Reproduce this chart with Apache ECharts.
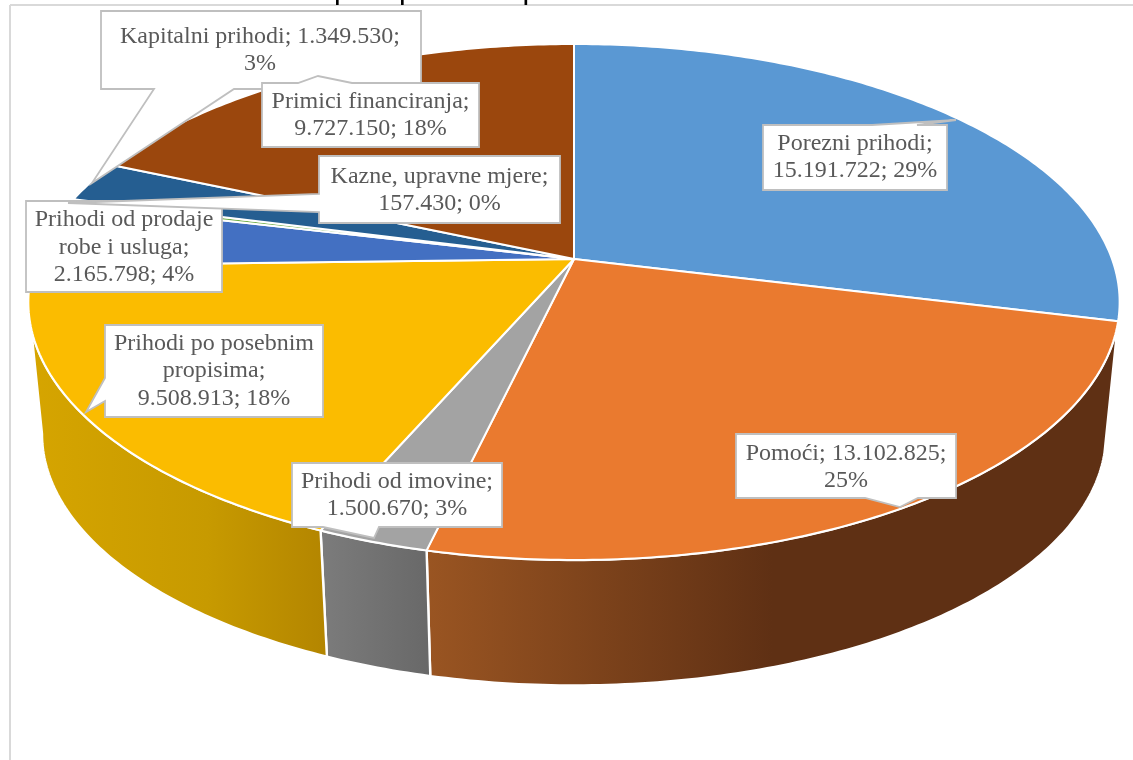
<!DOCTYPE html>
<html>
<head>
<meta charset="utf-8">
<style>html,body{margin:0;padding:0;background:#fff}#c{width:1133px;height:760px}</style>
<script src="https://cdn.jsdelivr.net/npm/echarts@6/dist/echarts.min.js"></script>
</head>
<body>
<div id="c"></div>
<script>
// ---------- data ----------
const categories = ['Porezni prihodi','Pomoći','Prihodi od imovine','Prihodi po posebnim propisima','Prihodi od prodaje robe i usluga','Kazne, upravne mjere','Kapitalni prihodi','Primici financiranja'];
const values = [15191722,13102825,1500670,9508913,2165798,157430,1349530,9727150];
const percentLabels = ['29%','25%','3%','18%','4%','0%','3%','18%'];
const valueLabels = ['15.191.722','13.102.825','1.500.670','9.508.913','2.165.798','157.430','1.349.530','9.727.150'];
const titleText = 'plan prihoda i primitaka';

// ---------- style ----------
const topColors = ['#5A98D3','#EA7A2F','#A3A3A3','#FBBC00','#4370C2','#70AD47','#255E91','#9B470D'];
const wallStops = {
  0: [[0,'#2f5778'],[1,'#2f5778']],
  1: [[0,'#9a5522'],[0.5,'#5f3014'],[1,'#5f3014']],
  2: [[0,'#7c7c7c'],[1,'#686868']],
  3: [[0,'#d6a500'],[0.6,'#c79a00'],[1,'#b38500']]
};
const GEO = {cx:574, cy:259, a:538, b:250.8, k:0.1667, drop:133, shrink:0.975};
const FRONT = [99.6, 260.4];   // angular range of the visible side wall

// callout layout: draw order matters (later over earlier)
const callouts = [
  {i:0, lines:['Porezni prihodi;','{v}; {p}'], tx:855, ty:157.5,
   pts:[[763,125],[872,125],[956,120],[917,125],[947,125],[947,190],[763,190]]},
  {i:1, lines:['Pomoći; {v};','{p}'], tx:846, ty:467,
   pts:[[736,434],[956,434],[956,498],[918,498],[900,507],[865,498],[736,498]]},
  {i:2, lines:['Prihodi od imovine;','{v}; {p}'], tx:397, ty:495,
   pts:[[292,463],[502,463],[502,527],[379,527],[374,538],[323,527],[292,527]]},
  {i:3, lines:['Prihodi po posebnim','propisima;','{v}; {p}'], tx:214, ty:371,
   pts:[[105,325],[323,325],[323,417],[105,417],[105,401],[86,412],[105,378]]},
  {i:6, lines:['Kapitalni prihodi; {v};','{p}'], tx:260, ty:50,
   pts:[[101,11],[421,11],[421,89],[234,89],[92,183],[154,89],[101,89]]},
  {i:7, lines:['Primici financiranja;','{v}; {p}'], tx:370.5, ty:115.5,
   pts:[[262,83],[298,83],[318,76],[352,83],[479,83],[479,147],[262,147]]},
  {i:4, lines:['Prihodi od prodaje','robe i usluga;','{v}; {p}'], tx:124, ty:247.5,
   pts:[[26,201],[222,201],[222,292],[26,292]]},
  {i:5, lines:['Kazne, upravne mjere;','{v}; {p}'], tx:439.5, ty:190,
   pts:[[319,156],[560,156],[560,223],[319,223],[319,212],[68,203],[319,194]]}
];

// ---------- geometry helpers ----------
const total = values.reduce((s,v)=>s+v,0);
const cum = [];
values.reduce((s,v,i)=>{cum[i]=[s/total*360,(s+v)/total*360];return s+v;},0);
function topPt(deg){
  const t=deg*Math.PI/180, u=Math.sin(t), v=-Math.cos(t), d=1-GEO.k*v;
  return [GEO.cx+GEO.a*u/d, GEO.cy+GEO.b*v/d];
}
function botPt(deg){
  const p=topPt(deg);
  return [GEO.cx+GEO.shrink*(p[0]-GEO.cx), GEO.cy+GEO.drop+GEO.shrink*(p[1]-GEO.cy)];
}
function arc(fn,a0,a1){
  const n=Math.max(2,Math.ceil(Math.abs(a1-a0)/0.75)), out=[];
  for(let j=0;j<=n;j++) out.push(fn(a0+(a1-a0)*j/n));
  return out;
}

const chart = echarts.init(document.getElementById('c'), null, {renderer:'canvas'});

function wallItem(params, api){
  const i=params.dataIndex;
  const a0=Math.max(cum[i][0],FRONT[0]), a1=Math.min(cum[i][1],FRONT[1]);
  if(a1<=a0 || !wallStops[i]) return {type:'group',children:[]};
  const pts=arc(topPt,a0,a1).concat(arc(botPt,a1,a0));
  return {type:'polygon', shape:{points:pts}, style:{
    fill:new echarts.graphic.LinearGradient(0,0,1,0,wallStops[i].map(s=>({offset:s[0],color:s[1]}))),
    stroke:'#fff', lineWidth:2.4, lineJoin:'round'}};
}
function topItem(params, api){
  const i=params.dataIndex;
  const pts=[[GEO.cx,GEO.cy]].concat(arc(topPt,cum[i][0],cum[i][1]));
  return {type:'polygon', shape:{points:pts}, style:{fill:topColors[i], stroke:'#fff', lineWidth:2, lineJoin:'round'}};
}
function calloutItem(params, api){
  const c=callouts[params.dataIndex];
  const txt=c.lines.join('\n').replace('{v}',valueLabels[c.i]).replace('{p}',percentLabels[c.i]);
  return {type:'group',children:[
    {type:'polygon',shape:{points:c.pts},style:{fill:'#fff',stroke:'#BFBFBF',lineWidth:1.8,lineJoin:'miter'}},
    {type:'text',style:{text:txt,x:c.tx,y:c.ty,align:'center',verticalAlign:'middle',
      fill:'#595959',fontFamily:'"Liberation Serif"',fontSize:24,lineHeight:27.3}}
  ]};
}

chart.setOption({
  animation:false,
  backgroundColor:'#fff',
  tooltip:{show:false},
  graphic:[
    {type:'line',shape:{x1:10,y1:5,x2:1133,y2:5},style:{stroke:'#D9D9D9',lineWidth:2},z:1},
    {type:'line',shape:{x1:10,y1:5,x2:10,y2:760},style:{stroke:'#D9D9D9',lineWidth:2},z:1},
    {type:'text',x:334,y:-24,style:{text:titleText,fill:'#000',fontFamily:'"Liberation Sans"',fontSize:30},z:1}
  ],
  series:[
    {type:'custom',coordinateSystem:'none',silent:true,z:2,renderItem:wallItem,data:values.map((v,i)=>({name:categories[i],value:[v]}))},
    {type:'custom',coordinateSystem:'none',silent:true,z:3,renderItem:topItem,data:values.map((v,i)=>({name:categories[i],value:[v]}))},
    {type:'custom',coordinateSystem:'none',silent:true,z:4,renderItem:calloutItem,data:callouts.map(c=>({name:categories[c.i],value:[values[c.i]]}))}
  ]
});
</script>
</body>
</html>
